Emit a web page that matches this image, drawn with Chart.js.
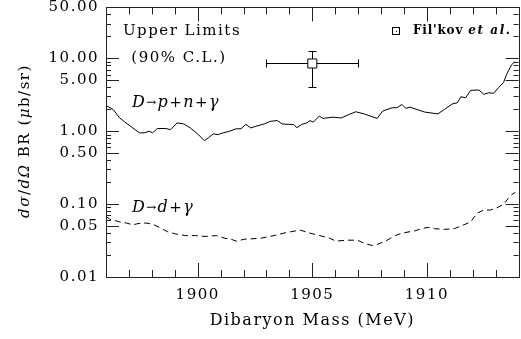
<!DOCTYPE html>
<html><head><meta charset="utf-8">
<script src="https://cdn.jsdelivr.net/npm/chart.js@4"></script>
<style>html,body{margin:0;padding:0;overflow:hidden;background:#fff;width:521px;height:339px}</style>
</head><body>
<canvas id="c" width="526" height="339" style="display:block;width:526px;height:339px"></canvas>
<script>
// D -> p + n + gamma upper limit (solid)
const massPN = [1896.0,1896.31,1896.6,1896.82,1897.17,1897.46,1897.67,1897.89,1898.03,1898.24,
  1898.61,1898.82,1899.1,1899.39,1899.68,1900.03,1900.29,1900.46,1900.68,1900.89,
  1901.11,1901.39,1901.68,1901.89,1902.1,1902.32,1902.54,1902.9,1903.18,1903.47,
  1903.68,1903.97,1904.18,1904.33,1904.54,1904.76,1904.9,1905.04,1905.3,1905.47,
  1905.9,1906.26,1906.61,1906.9,1907.26,1907.83,1908.07,1908.48,1908.69,1908.91,
  1909.08,1909.26,1909.91,1910.48,1910.76,1911.12,1911.33,1911.48,1911.69,1911.91,
  1912.27,1912.48,1912.7,1912.91,1913.12,1913.34,1913.48,1913.69,1913.85];
const sigmaPN = [2.25,1.99,1.52,1.34,1.11,0.95,0.95,1.0,0.95,1.09,
  1.09,1.05,1.3,1.26,1.11,0.9,0.74,0.81,0.92,0.9,
  0.95,1.0,1.08,1.08,1.24,1.11,1.17,1.26,1.37,1.4,
  1.26,1.24,1.24,1.12,1.24,1.3,1.4,1.33,1.61,1.5,
  1.56,1.52,1.7,1.85,1.73,1.5,1.89,2.1,2.1,2.33,
  2.06,2.14,1.83,1.73,1.99,2.38,2.46,2.97,2.88,3.64,
  3.68,3.21,3.37,3.31,3.96,4.64,6.05,8.14,9.0];
// D -> d + gamma upper limit (dashed)
const massDD = [1896.0,1896.17,1896.6,1896.89,1897.17,1897.39,1897.75,1898.03,1898.39,1898.67,
  1899.03,1899.46,1899.89,1900.32,1900.82,1901.18,1901.46,1901.68,1902.04,1902.75,
  1903.33,1903.9,1904.11,1904.47,1904.9,1905.33,1905.76,1906.04,1906.47,1906.97,
  1907.26,1907.62,1907.83,1908.19,1908.62,1908.91,1909.48,1909.76,1910.05,1910.33,
  1910.76,1911.19,1911.48,1911.91,1912.19,1912.48,1912.77,1913.05,1913.34,1913.55,
  1913.69,1913.85];
const sigmaDD = [0.068,0.062,0.057,0.055,0.052,0.054,0.055,0.053,0.047,0.042,
  0.039,0.037,0.037,0.036,0.037,0.034,0.033,0.031,0.033,0.034,
  0.037,0.041,0.042,0.044,0.040,0.037,0.034,0.031,0.032,0.032,
  0.029,0.027,0.028,0.031,0.037,0.040,0.043,0.046,0.048,0.046,
  0.045,0.046,0.050,0.057,0.075,0.083,0.083,0.089,0.099,0.12,
  0.134,0.145];
// Fil'kov et al. point
const filkovMass = [1905];
const filkovMassErr = [2];
const filkovSigma = [8.5];
const filkovSigmaLow = [4.1];
const filkovSigmaHigh = [12.6];
// ticks
const xTickValues = [1900, 1905, 1910];
const yTickValues = [0.01, 0.05, 0.1, 0.5, 1, 5, 10, 50];

const FAM = '"DejaVu Serif"';
const LS = '1.5px';
function setLS(chart){ chart.ctx.letterSpacing = LS; }

function drawRich(ctx, x, y, segs, align){
  let total = 0;
  for (const s of segs){ ctx.font = s.f; ctx.letterSpacing = s.ls || LS; total += ctx.measureText(s.t).width + (s.gap||0); }
  let cx = align === 'center' ? x - total/2 : x;
  for (const s of segs){
    ctx.font = s.f; ctx.letterSpacing = s.ls || LS;
    ctx.fillText(s.t, cx, y + (s.dy||0));
    cx += ctx.measureText(s.t).width + (s.gap||0);
  }
}

const framePlugin = {
  id: 'frame',
  beforeUpdate: setLS, beforeLayout: setLS, beforeDraw: setLS,
  afterDatasetsDraw(chart){
    const {ctx, chartArea: a, scales: {x, y}} = chart;
    ctx.save();
    ctx.strokeStyle = '#222'; ctx.lineWidth = 1;
    ctx.beginPath();
    for (let m = Math.ceil(x.min); m <= x.max; m++){
      const px = Math.round(x.getPixelForValue(m)) + 0.5;
      const L = m % 5 === 0 ? 14 : 7;
      ctx.moveTo(px, a.bottom); ctx.lineTo(px, a.bottom - L);
      ctx.moveTo(px, a.top); ctx.lineTo(px, a.top + L);
    }
    for (let e = -2; e <= 1; e++){
      for (let k = 1; k <= 9; k++){
        const v = k * Math.pow(10, e);
        if (v > 50.0001) break;
        const py = Math.round(y.getPixelForValue(v)) + 0.5;
        const L = (k === 1 || k === 5) ? 13 : 5;
        ctx.moveTo(a.left, py); ctx.lineTo(a.left + L, py);
        ctx.moveTo(a.right, py); ctx.lineTo(a.right - L, py);
      }
    }
    ctx.stroke();
    ctx.strokeRect(Math.round(a.left)+0.5, Math.round(a.top)+0.5, Math.round(a.right - a.left), Math.round(a.bottom - a.top));

    // error bars for Fil'kov point
    ctx.strokeStyle = '#000';
    const s = 4.5, cap = 4;
    for (let i = 0; i < filkovMass.length; i++){
      const px = Math.round(x.getPixelForValue(filkovMass[i])) + 0.5;
      const py = Math.round(y.getPixelForValue(filkovSigma[i])) + 0.5;
      const xl = Math.round(x.getPixelForValue(filkovMass[i] - filkovMassErr[i])) + 0.5;
      const xr = Math.round(x.getPixelForValue(filkovMass[i] + filkovMassErr[i])) + 0.5;
      const yt = Math.round(y.getPixelForValue(filkovSigmaHigh[i])) + 0.5;
      const yb = Math.round(y.getPixelForValue(filkovSigmaLow[i])) + 0.5;
      ctx.beginPath();
      ctx.moveTo(xl, py); ctx.lineTo(px - s, py);
      ctx.moveTo(px + s, py); ctx.lineTo(xr, py);
      ctx.moveTo(xl, py - cap); ctx.lineTo(xl, py + cap);
      ctx.moveTo(xr, py - cap); ctx.lineTo(xr, py + cap);
      ctx.moveTo(px, yt); ctx.lineTo(px, py - s);
      ctx.moveTo(px, py + s); ctx.lineTo(px, yb);
      ctx.moveTo(px - cap, yt); ctx.lineTo(px + cap, yt);
      ctx.moveTo(px - cap, yb); ctx.lineTo(px + cap, yb);
      ctx.stroke();
    }

    // texts
    ctx.fillStyle = '#000';
    ctx.textBaseline = 'middle';
    ctx.textAlign = 'left';
    const N = '15px ' + FAM, I = 'italic 15px ' + FAM, IS = 'italic 16px ' + FAM;
    drawRich(ctx, 182, 31, [{t:'Upper Limits', f:N}], 'center');
    drawRich(ctx, 179, 58, [{t:'(90% C.L.)', f:N}], 'center');
    drawRich(ctx, 132, 103, [
      {t:'D', f:IS}, {t:'→', f:'12px ' + FAM, ls:'0px', gap:1}, {t:'p', f:IS}, {t:'+', f:'15px ' + FAM},
      {t:'n', f:IS}, {t:'+', f:'15px ' + FAM}, {t:'γ', f:IS}]);
    drawRich(ctx, 132, 208, [
      {t:'D', f:IS}, {t:'→', f:'12px ' + FAM, ls:'0px', gap:1}, {t:'d', f:IS}, {t:'+', f:'15px ' + FAM},
      {t:'γ', f:IS}]);
    // legend
    ctx.strokeStyle = '#000';
    ctx.strokeRect(392.5, 27.5, 7, 7);
    ctx.fillRect(396, 31, 1, 1);
    drawRich(ctx, 413, 31, [{t:"Fil'kov ", f:'bold 12px ' + FAM, ls:'0.8px'}, {t:'et al.', f:'bold italic 12px ' + FAM, ls:'1.6px'}]);

    // y axis title (rotated)
    ctx.translate(25, 141);
    ctx.rotate(-Math.PI/2);
    drawRich(ctx, 0, 0, [
      {t:'dσ', f:I}, {t:'/', f:N}, {t:'dΩ', f:I}, {t:' BR (', f:N}, {t:'μ', f:I}, {t:'b/sr)', f:N}], 'center');
    ctx.restore();
  }
};

new Chart(document.getElementById('c'), {
  type: 'line',
  data: {
    datasets: [
      { label: 'D→p+n+γ', data: massPN.map((m, i) => ({x: m, y: sigmaPN[i]})),
        borderColor: '#000', borderWidth: 1, pointRadius: 0, tension: 0, fill: false },
      { label: 'D→d+γ', data: massDD.map((m, i) => ({x: m, y: sigmaDD[i]})),
        borderColor: '#000', borderWidth: 1, borderDash: [6, 4], pointRadius: 0, tension: 0, fill: false },
      { type: 'scatter', label: "Fil'kov et al.", data: filkovMass.map((m, i) => ({x: m, y: filkovSigma[i]})),
        borderColor: '#000', backgroundColor: 'rgba(0,0,0,0)', borderWidth: 1, pointStyle: 'rect', pointRadius: 6.4, showLine: false }
    ]
  },
  options: {
    responsive: false, animation: false, devicePixelRatio: 1,
    layout: { padding: { left: 0, top: 7, right: 1, bottom: 0 } },
    plugins: { legend: { display: false }, tooltip: { enabled: false } },
    scales: {
      x: {
        type: 'linear', min: 1896, max: 1914,
        grid: { display: false, drawTicks: false }, border: { display: false },
        afterBuildTicks: s => { s.ticks = xTickValues.map(v => ({value: v})); },
        afterFit: s => { s.height = 62; s.paddingLeft = 0; s.paddingRight = 0; },
        ticks: { color: '#000', padding: 9, maxRotation: 0, font: { family: 'DejaVu Serif', size: 15 }, callback: v => String(v) },
        title: { display: true, text: 'Dibaryon Mass (MeV)', color: '#000', font: { family: 'DejaVu Serif', size: 16 }, padding: { top: 0, bottom: 9 } }
      },
      y: {
        type: 'logarithmic', min: 0.01, max: 50,
        grid: { display: false, drawTicks: false }, border: { display: false },
        afterBuildTicks: s => { s.ticks = yTickValues.map(v => ({value: v})); },
        afterFit: s => { s.width = 106; s.paddingTop = 0; s.paddingBottom = 0; },
        ticks: { color: '#000', padding: 7, font: { family: 'DejaVu Serif', size: 15 }, callback: v => Number(v).toFixed(2) }
      }
    }
  },
  plugins: [framePlugin]
});
</script>
</body></html>
